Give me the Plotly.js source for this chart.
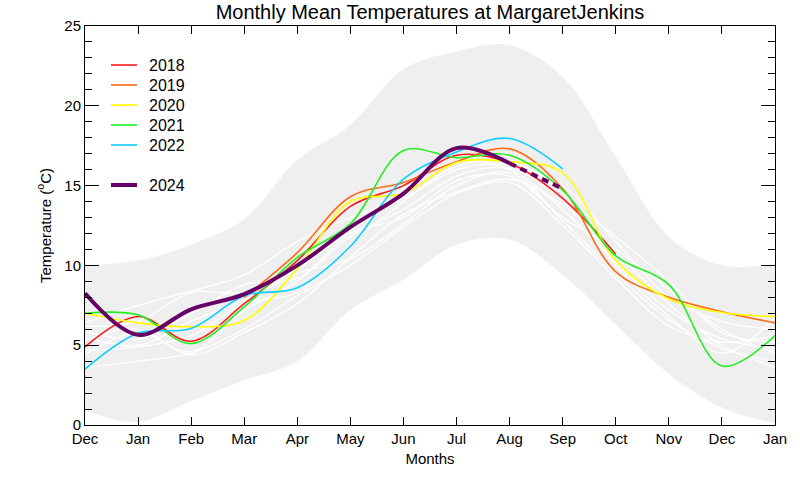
<!DOCTYPE html>
<html>
<head>
<meta charset="utf-8">
<script src="https://cdn.plot.ly/plotly-3.0.1.min.js"></script>
<style>html,body{margin:0;padding:0;background:#fff;}#chart{width:800px;height:480px;}</style>
</head>
<body>
<div id="chart"></div>
<script>
var monthLabels = ["Dec","Jan","Feb","Mar","Apr","May","Jun","Jul","Aug","Sep","Oct","Nov","Dec","Jan"];
var monthIdx = [0,1,2,3,4,5,6,7,8,9,10,11,12,13];

var bandLow  = [0.9, 0.2, 1.5, 2.8, 4.0, 7.2, 9.1, 11.3, 11.6, 9.4, 6.3, 3.2, 1.1, 0.1];
var bandHigh = [10.0, 10.3, 11.3, 12.9, 16.6, 18.8, 22.3, 23.4, 23.8, 21.8, 16.8, 11.8, 10.0, 10.1];

var otherYears = [
  [6.4, 7.5, 8.4, 9.4, 11.5, 13.0, 14.2, 16.0, 16.3, 15.0, 11.5, 8.0, 6.5, 6.0],
  [6.2, 6.5, 8.3, 8.3, 9.8, 12.2, 14.8, 16.5, 16.0, 13.5, 10.2, 7.2, 5.4, 4.8],
  [5.9, 5.4, 7.0, 8.8, 9.2, 11.8, 13.5, 15.6, 16.1, 14.2, 11.8, 9.0, 5.8, 5.2],
  [5.5, 5.0, 6.5, 7.8, 9.5, 10.4, 12.6, 15.0, 15.8, 12.8, 9.5, 6.6, 4.8, 4.0],
  [5.3, 6.0, 4.4, 5.8, 7.6, 10.5, 13.2, 14.6, 15.4, 13.8, 10.8, 7.6, 5.0, 3.6],
  [4.7, 4.9, 5.6, 7.6, 8.3, 11.3, 14.0, 16.2, 16.5, 14.6, 10.0, 6.8, 4.5, 6.7],
  [4.4, 5.8, 4.6, 7.2, 9.0, 12.0, 13.0, 15.3, 15.6, 13.0, 11.0, 8.5, 6.0, 4.5],
  [3.6, 4.0, 4.5, 6.0, 8.1, 10.0, 12.4, 14.5, 15.2, 12.5, 9.2, 6.2, 5.2, 5.6]
];

var years = ["2018","2019","2020","2021","2022"];
var yearColors = ["#ff1a1a","#ff6a13","#ffff00","#22ee22","#11ccff"];
var yearValues = [
  [4.9, 6.8, 5.25, 7.6, 10.3, 13.7, 15.0, 16.9, 16.4, 14.2, 10.7, null, null, null],
  [null, null, null, 8.0, 10.8, 14.3, 15.2, 16.5, 17.3, 14.8, 9.6, 8.0, 7.1, 6.4],
  [7.0, 6.4, 6.15, 6.55, 9.8, 14.0, 14.5, 16.45, 16.5, 15.8, 10.3, 7.9, 7.05, 6.8],
  [7.0, 6.9, 5.1, 7.4, 10.5, 12.6, 17.2, 16.75, 16.9, 14.7, 10.6, 8.8, 3.7, 5.6],
  [3.5, 5.75, 6.05, 8.1, 8.6, 11.2, 15.4, 17.1, 17.95, 16.05, null, null, null, null]
];

var label2024 = "2024";
var color2024 = "#660066";
var values2024 = [8.25, 5.65, 7.25, 8.2, 10.0, 12.4, 14.5, 17.35, 16.4, null, null, null, null, null];
var forecast2024X = [8, 9];
var forecast2024 = [16.4, 14.8];

var traces = [];
traces.push({x: monthIdx, y: bandLow, type: "scatter", mode: "lines",
  line: {width: 0, shape: "spline", color: "#efefef"}, showlegend: false, hoverinfo: "skip"});
traces.push({x: monthIdx, y: bandHigh, type: "scatter", mode: "lines", fill: "tonexty",
  fillcolor: "#efefef", line: {width: 0, shape: "spline", color: "#efefef"}, showlegend: false, hoverinfo: "skip"});

otherYears.forEach(function(v){
  traces.push({x: monthIdx, y: v, type: "scatter", mode: "lines",
    line: {color: "#ffffff", width: 1.3, shape: "spline"}, showlegend: false, hoverinfo: "skip"});
});

years.forEach(function(name, i){
  traces.push({x: monthIdx, y: yearValues[i], type: "scatter", mode: "lines", name: name,
    showlegend: false, line: {color: yearColors[i], width: 1.6, shape: "spline"}});
});

traces.push({x: monthIdx, y: values2024, type: "scatter", mode: "lines", name: label2024,
  showlegend: false, line: {color: color2024, width: 4, shape: "spline"}});
traces.push({x: forecast2024X, y: forecast2024, type: "scatter", mode: "lines", showlegend: false,
  line: {color: color2024, width: 4, dash: "7px,5px", shape: "spline"}});

// Legend drawn as paper-positioned shapes and annotations (layout only)
var plotL = 85, plotR = 775, plotT = 26, plotB = 425;
function px2x(p){ return (p - plotL) / (plotR - plotL); }
function px2y(p){ return (plotB - p) / (plotB - plotT); }
var legendNames = years.concat([label2024]);
var legendColors = yearColors.concat([color2024]);
var legendRows = [0, 1, 2, 3, 4, 6];
var shapes = [], annotations = [];
legendNames.forEach(function(name, i){
  var yp = 65 + 20 * legendRows[i];
  shapes.push({type: "line", xref: "paper", yref: "paper",
    x0: px2x(111), x1: px2x(137), y0: px2y(yp), y1: px2y(yp),
    line: {color: legendColors[i], width: (i === legendNames.length - 1) ? 4 : 1.6}});
  annotations.push({xref: "paper", yref: "paper", x: px2x(147), y: px2y(yp),
    xanchor: "left", yanchor: "middle", text: name, showarrow: false,
    font: {size: 16, color: "#000"}});
});

var layout = {
  width: 800, height: 480,
  margin: {l: 85, r: 25, t: 26, b: 55},
  paper_bgcolor: "#ffffff", plot_bgcolor: "#ffffff",
  font: {family: "Liberation Sans, Arial, sans-serif", size: 15, color: "#000"},
  title: {text: "Monthly Mean Temperatures at MargaretJenkins", x: 0.5375, xanchor: "center",
    y: 0.975, yanchor: "middle", font: {size: 20, color: "#000"}},
  showlegend: false,
  shapes: shapes,
  annotations: annotations,
  xaxis: {range: [0, 13], tickvals: monthIdx, ticktext: monthLabels, ticks: "inside", ticklen: 8,
    tickcolor: "#000", showline: true, linecolor: "#000", linewidth: 1, mirror: "allticks",
    showgrid: false, zeroline: false,
    title: {text: "Months", standoff: 7, font: {size: 15}}},
  yaxis: {range: [0, 25], dtick: 5, ticks: "inside", ticklen: 14, tickcolor: "#000",
    minor: {dtick: 1, ticks: "inside", ticklen: 7, tickcolor: "#000"},
    showline: true, linecolor: "#000", linewidth: 1, mirror: "allticks",
    showgrid: false, zeroline: false,
    title: {text: "Temperature (<sup>o</sup>C)", standoff: 9, font: {size: 15}}}
};

Plotly.newPlot("chart", traces, layout, {displayModeBar: false, staticPlot: true});
</script>
</body>
</html>
